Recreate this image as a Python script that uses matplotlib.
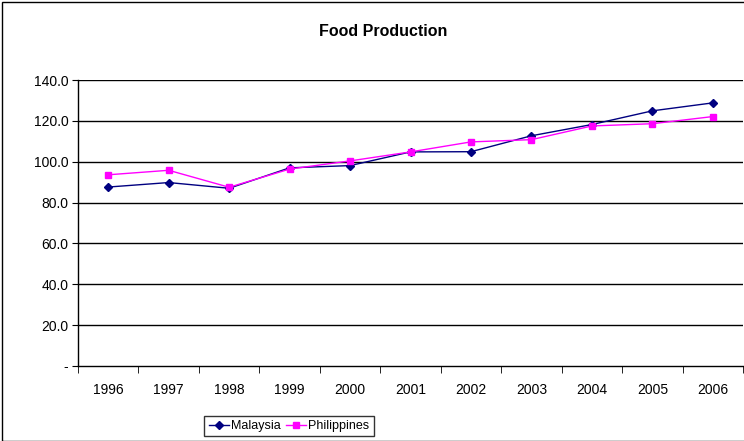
import numpy as np
import matplotlib.pyplot as plt
from matplotlib.patches import Rectangle

plt.rcParams['font.family'] = ['Liberation Sans', 'DejaVu Sans']

years = ['1996', '1997', '1998', '1999', '2000', '2001', '2002', '2003', '2004', '2005', '2006']
malaysia = [87.6, 89.8, 87.0, 97.0, 98.1, 104.8, 104.9, 112.7, 118.2, 124.9, 128.8]
philippines = [93.6, 95.8, 87.5, 96.4, 100.4, 104.8, 109.7, 110.8, 117.5, 118.6, 122.1]
yticks = [0, 20, 40, 60, 80, 100, 120, 140]
ytick_labels = ['-', '20.0', '40.0', '60.0', '80.0', '100.0', '120.0', '140.0']

fig = plt.figure(figsize=(7.44, 4.41), dpi=100)
ax = fig.add_axes([78/744, 75/441, 665/744, 286/441])

x = np.arange(len(years))
ax.plot(x, malaysia, color='#000080', marker='D', markersize=4, linewidth=1, label='Malaysia')
ax.plot(x, philippines, color='#FF00FF', marker='s', markersize=4.5, linewidth=1, label='Philippines')

ax.set_xlim(-0.5, len(years) - 0.5)
ax.set_ylim(0, 140)
ax.set_yticks(yticks)
ax.set_yticklabels(ytick_labels, fontsize=10)
ax.set_xticks(x)
ax.set_xticklabels(years, fontsize=10)
ax.tick_params(axis='x', length=0, pad=12)
ax.set_xticks(np.arange(-0.5, len(years)), minor=True)
ax.tick_params(axis='x', which='minor', length=5, direction='out', color='black')
ax.tick_params(axis='y', length=4, direction='out', pad=3)

for v in yticks[1:]:
    ax.axhline(v, color='black', linewidth=1, zorder=0)

for side in ['top', 'right']:
    ax.spines[side].set_visible(False)
ax.spines['left'].set_linewidth(1)
ax.spines['bottom'].set_linewidth(1)

fig.text(383/744, 1 - 32/441, 'Food Production', ha='center', va='center',
         fontsize=11.5, fontweight='bold')

leg = fig.legend(loc='center', bbox_to_anchor=(289/744, 1 - 426/441), ncol=2,
                 fontsize=9, frameon=True, fancybox=False, edgecolor='black',
                 handlelength=1.6, columnspacing=0.4, handletextpad=0.2,
                 borderpad=0.35, borderaxespad=0)
leg.get_frame().set_linewidth(1)

fig.patches.append(Rectangle((2/744, 0), 760/744, 1 - 2/441, transform=fig.transFigure,
                             fill=False, edgecolor='black', linewidth=1))

fig.savefig('out.png', dpi=100)
